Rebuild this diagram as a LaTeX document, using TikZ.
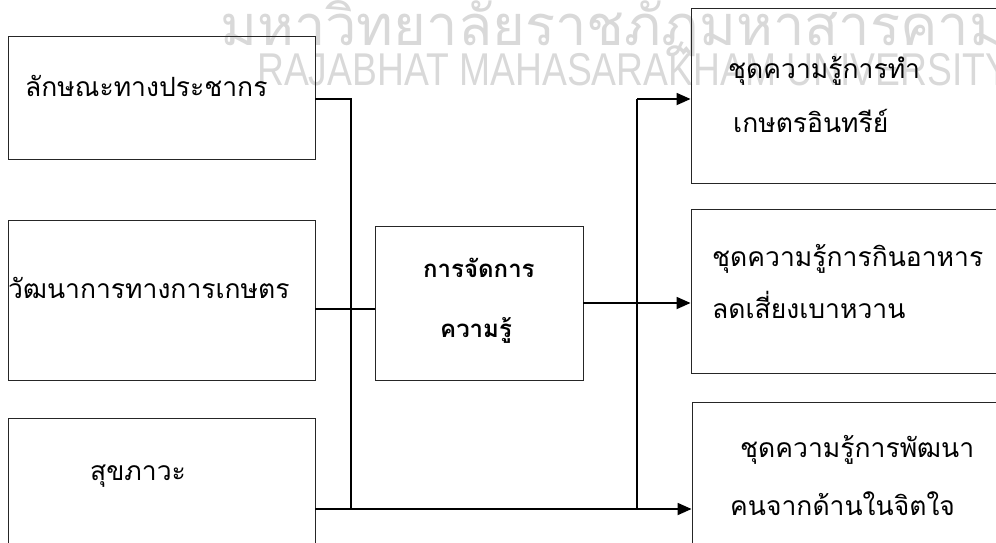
\documentclass[tikz,border=0pt]{standalone}
\usepackage{fontspec}
\setmainfont{Liberation Serif}
\newfontfamily\thaifont[Script=Thai]{Loma}
\newfontfamily\wmfont{Liberation Sans}
\usetikzlibrary{arrows.meta}
\tikzset{
  box/.style={draw=black!85, line width=0.9pt, inner sep=0pt, fill=none},
  conn/.style={line width=1.8pt, black},
  arr/.style={conn, -{Triangle[length=14pt,width=12pt]}},
  txt/.style={font=\thaifont\fontsize{26.5}{32}\selectfont, inner sep=0pt, anchor=base west},
  btxt/.style={font=\thaifont\bfseries\fontsize{24}{29}\selectfont, inner sep=0pt, anchor=base west},
  wmth/.style={font=\thaifont\fontsize{56}{64}\selectfont, text=black!15, inner sep=0pt, anchor=base west},
  wmen/.style={font=\wmfont\fontsize{46}{52}\selectfont, text=black!15, inner sep=0pt, anchor=base west},
}
\begin{document}
\begin{tikzpicture}[x=1pt,y=-1pt]
\clip (0,0) rectangle (996,542);
% watermark
\node[wmth] (wm1) at (220,45) {มหาวิทยาลัยราชภัฏมหาสารคาม};
\node[wmen] (wm2) at (257,85) {\scalebox{0.81}[1]{RAJABHAT MAHASARAKHAM UNIVERSITY}};
% boxes
\node[box, minimum width=307pt, minimum height=123pt] (b1) at (161.5,97.5) {};
\node[box, minimum width=307pt, minimum height=160pt] (b2) at (161.5,300) {};
\node[box, minimum width=307pt, minimum height=142pt] (b3) at (161.5,489) {};
\node[box, minimum width=208pt, minimum height=154pt] (km) at (479,303) {};
\node[box, minimum width=319pt, minimum height=175pt] (r1) at (850.5,95.5) {};
\node[box, minimum width=319pt, minimum height=164pt] (r2) at (850.5,291) {};
\node[box, minimum width=318pt, minimum height=158pt] (r3) at (851,481) {};
% texts
\node[txt] (t1) at (25,96) {ลักษณะทางประชากร};
\node[txt] (t2) at (8,298) {วัฒนาการทางการเกษตร};
\node[txt] (t3) at (90,480) {สุขภาวะ};
\node[btxt] (t4) at (423,277) {การจัดการ};
\node[btxt] (t5) at (440,337) {ความรู้};
\node[txt] (t6) at (728,78) {ชุดความรู้การทำ};
\node[txt] (t7) at (733,132) {เกษตรอินทรีย์};
\node[txt] (t8) at (712,266) {ชุดความรู้การกินอาหาร};
\node[txt] (t9) at (712,318) {ลดเสี่ยงเบาหวาน};
\node[txt] (t10) at (740,457) {ชุดความรู้การพัฒนา};
\node[txt] (t11) at (730,515) {คนจากด้านในจิตใจ};
% connector coordinates
\coordinate (v1top) at (351,99);
\coordinate (v1bot) at (351,509);
\coordinate (j2) at (351,309);
\coordinate (v2top) at (637,99);
\coordinate (v2bot) at (637,509);
% connectors
\draw[conn] (b1.east |- v1top) -- (v1top) -- (v1bot);
\draw[conn] (b2.east |- j2) -- (km.west |- j2);
\draw[arr] (b3.east |- v1bot) -- (r3.west |- v1bot);
\draw[conn] (v2bot) -- (v2top);
\draw[arr] (v2top) -- (r1.west |- v2top);
\draw[arr] (km.east) -- (r2.west |- km.east);
\end{tikzpicture}
\end{document}
